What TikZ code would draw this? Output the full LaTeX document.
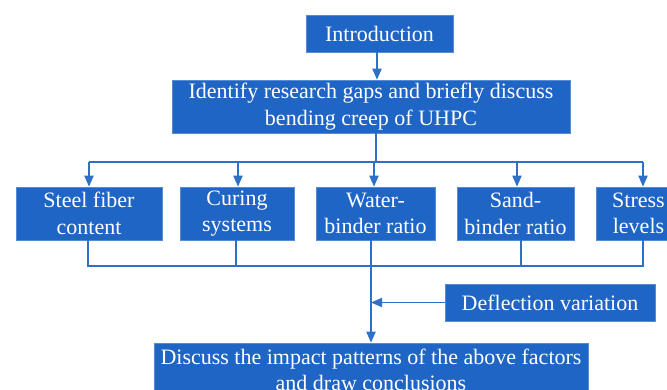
\documentclass[tikz,border=0pt]{standalone}
\usepackage{fontspec}
\setmainfont{Liberation Serif}
\usetikzlibrary{arrows.meta}
\definecolor{boxblue}{RGB}{31,101,197}
\definecolor{lineblue}{RGB}{46,111,199}
\begin{document}
\begin{tikzpicture}[x=1pt,y=-1pt,
  box/.style={fill=boxblue, draw=boxblue!75!white, line width=0.6pt, text=white, align=center,
    inner sep=0pt, font=\fontsize{22}{26.5}\selectfont, anchor=center},
  conn/.style={draw=lineblue, line width=1.8pt},
  arr/.style={conn, -{Triangle[length=11pt,width=9pt]}}]
\useasboundingbox (0,0) rectangle (667,390);
\fill[white] (0,0) rectangle (667,390);

\node[box, minimum width=147pt, minimum height=37pt] (intro) at (379.5,33.5) {Introduction};
\node[box, minimum width=398pt, minimum height=53pt] (ident) at (371,106.5)
  {Identify research gaps and briefly discuss\\bending creep of UHPC};

\node[box, minimum width=146pt, minimum height=53pt] (steel) at (89,213.5) {Steel fiber\\content};
\node[box, minimum width=114pt, minimum height=53pt] (curing) at (237,213.5) {Curing\\systems};
\node[box, minimum width=119pt, minimum height=53pt] (water) at (375.5,213.5) {Water-\\binder ratio};
\node[box, minimum width=117pt, minimum height=53pt] (sand) at (515.5,213.5) {Sand-\\binder ratio};
\node[box, minimum width=85pt, minimum height=53pt] (stress) at (638.5,213.5) {Stress\\levels};

\node[box, minimum width=210pt, minimum height=37pt] (defl) at (550,302.5) {Deflection variation};
\node[box, minimum width=434pt, minimum height=54pt] (bottom) at (371,370)
  {Discuss the impact patterns of the above factors\\and draw conclusions};

\coordinate (busT) at (0,162);
\coordinate (busB) at (0,266);

% top
\draw[arr] ([xshift=-2.5pt]intro.south) -- ([xshift=6pt]ident.north);
\draw[conn] ([xshift=5pt]ident.south) -- ([xshift=5pt]ident.south |- busT);
\draw[conn] (steel.north |- busT) -- ([xshift=4.5pt]stress.north |- busT);
\draw[arr] (steel.north |- busT) -- (steel.north);
\draw[arr] ([xshift=1pt]curing.north |- busT) -- ([xshift=1pt]curing.north);
\draw[arr] ([xshift=-1.5pt]water.north |- busT) -- ([xshift=-1.5pt]water.north);
\draw[arr] ([xshift=1.5pt]sand.north |- busT) -- ([xshift=1.5pt]sand.north);
\draw[arr] ([xshift=4.5pt]stress.north |- busT) -- ([xshift=4.5pt]stress.north);

% bottom bus
\draw[conn] ([xshift=-1pt]steel.south) -- ([xshift=-1pt]steel.south |- busB) -- ([xshift=4.5pt]stress.south |- busB) -- ([xshift=4.5pt]stress.south);
\draw[conn] ([xshift=-1pt]curing.south) -- ([xshift=-1pt]curing.south |- busB);
\draw[conn] ([xshift=5.5pt]sand.south) -- ([xshift=5.5pt]sand.south |- busB);
\draw[arr] ([xshift=-4.5pt]water.south) -- (bottom.north);
\draw[arr] (defl.west) -- (defl.west -| bottom.north);
\end{tikzpicture}
\end{document}
